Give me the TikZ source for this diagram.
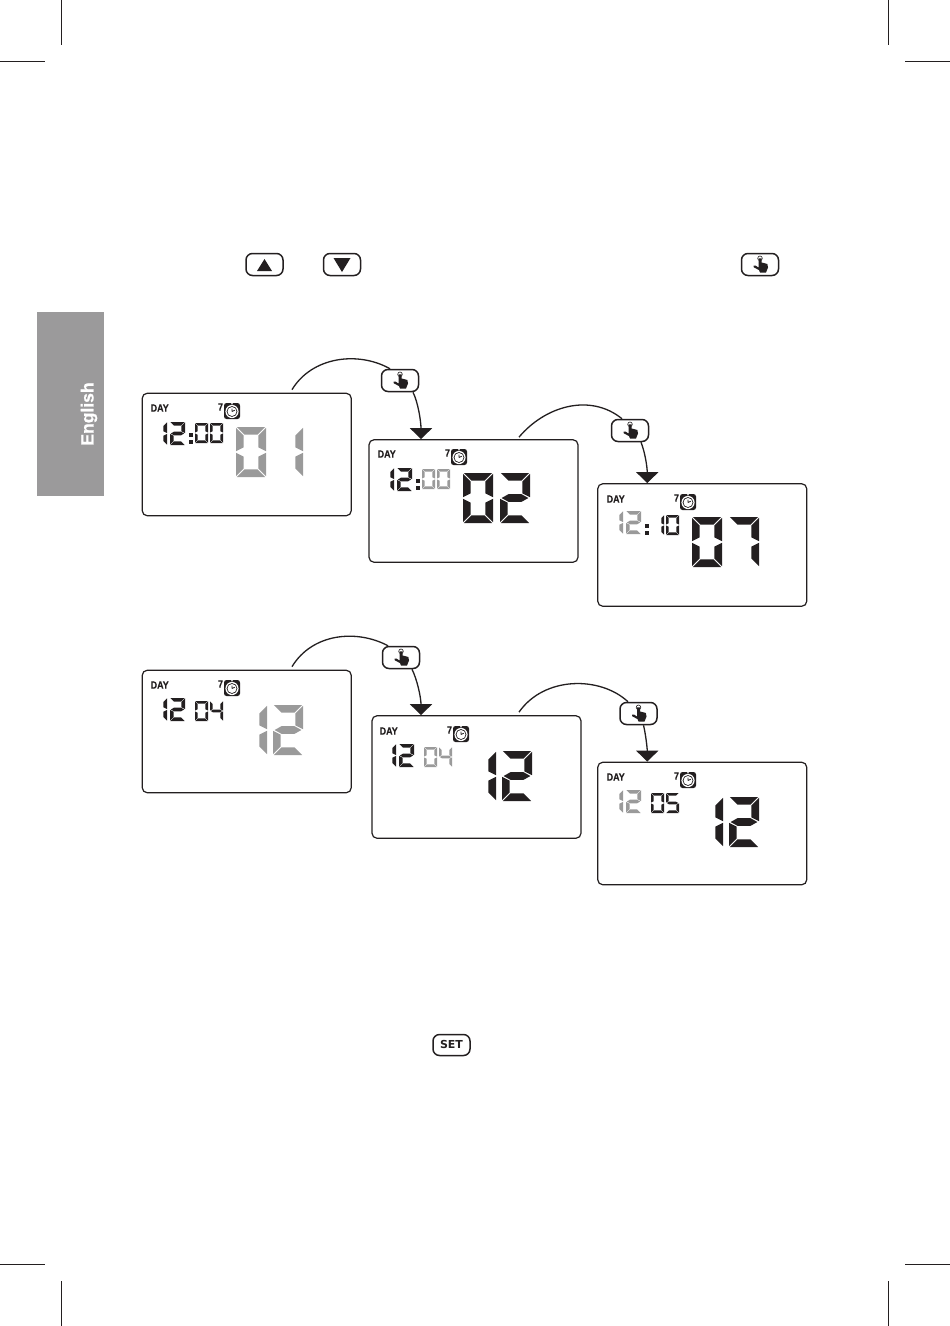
\documentclass[tikz,border=0pt]{standalone}
\usepackage{fontspec}
\setmainfont{Liberation Sans}
\newfontfamily\heavyfont{DejaVu Sans}
\newfontfamily\fatfont[BoldFeatures={FakeBold=1}]{Liberation Sans}
\newfontfamily\semifatfont[BoldFeatures={FakeBold=0.4}]{Liberation Sans}
\usetikzlibrary{arrows.meta}
\definecolor{lcdgrey}{HTML}{9A9A9A}
\definecolor{tabgrey}{HTML}{9B9A9B}
\definecolor{ink}{HTML}{231F20}
\tikzset{
  panel/.style={draw=ink,line width=1.2pt,rounded corners=5pt,minimum width=209pt,minimum height=122.5pt,inner sep=0pt,fill=white},
  keybox/.style={draw=ink,line width=1.5pt,rounded corners=6.5pt,minimum width=37pt,minimum height=22pt,inner sep=0pt,fill=white},
  link/.style={draw=ink,line width=1.3pt},
  linkhead/.style={draw=ink,line width=1.3pt,-{Triangle[width=22pt,length=11pt]}},
  crop/.style={draw=ink,line width=0.6pt},
  daytxt/.style={inner sep=0pt,text=ink,font=\fontsize{10.5}{12}\semifatfont\bfseries\selectfont},
  seg/.style={fill=\lcdc}
}
% segments
\def\segA{\fill[seg] (\lG,0)--(\lW-\lG,0)--(\lW-\lG-\lT,\lT)--(\lG+\lT,\lT)--cycle;}
\def\segB{\fill[seg] (\lW,\lG)--(\lW,\lH/2-\lG)--(\lW-\lT,\lH/2-\lT/2-\lG)--(\lW-\lT,\lG+\lT)--cycle;}
\def\segC{\fill[seg] (\lW,\lH-\lG)--(\lW,\lH/2+\lG)--(\lW-\lT,\lH/2+\lT/2+\lG)--(\lW-\lT,\lH-\lG-\lT)--cycle;}
\def\segD{\fill[seg] (\lG,\lH)--(\lW-\lG,\lH)--(\lW-\lG-\lT,\lH-\lT)--(\lG+\lT,\lH-\lT)--cycle;}
\def\segE{\fill[seg] (0,\lH-\lG)--(0,\lH/2+\lG)--(\lT,\lH/2+\lT/2+\lG)--(\lT,\lH-\lG-\lT)--cycle;}
\def\segF{\fill[seg] (0,\lG)--(0,\lH/2-\lG)--(\lT,\lH/2-\lT/2-\lG)--(\lT,\lG+\lT)--cycle;}
\def\segG{\fill[seg] (2*\lG,\lH/2)--(\lT+\lG,\lH/2-\lT/2)--(\lW-\lT-\lG,\lH/2-\lT/2)--(\lW-2*\lG,\lH/2)--(\lW-\lT-\lG,\lH/2+\lT/2)--(\lT+\lG,\lH/2+\lT/2)--cycle;}
\expandafter\def\csname dg0\endcsname{\segA\segB\segC\segD\segE\segF}
\expandafter\def\csname dg1\endcsname{\segB\segC}
\expandafter\def\csname dg2\endcsname{\segA\segB\segG\segE\segD}
\expandafter\def\csname dg4\endcsname{\segF\segG\segB\segC}
\expandafter\def\csname dg5\endcsname{\segA\segF\segG\segC\segD}
\expandafter\def\csname dg7\endcsname{\segA\segB\segC}
\def\szbig{\def\lW{30}\def\lH{50}\def\lT{7.6}\def\lG{0.8}}
\def\szhrs{\def\lW{15}\def\lH{23}\def\lT{3.6}\def\lG{0.4}}
\def\szmin{\def\lW{13}\def\lH{20}\def\lT{2.6}\def\lG{0.4}}
\newcommand\lcd[5]{\begin{scope}[shift={(#1,#2)}]\def\lcdc{#3}\csname sz#4\endcsname\csname dg#5\endcsname\end{scope}}
\newcommand\colondots[1]{\fill[#1] (47,40) rectangle (51,44); \fill[#1] (47,47) rectangle (51,51);}
% panel furniture: DAY, 7, clock
\newcommand\furn{%
  \node[daytxt] (dayt) at (17.7,15) {\scalebox{.85}[1]{DAY}};
  \node[daytxt] (sev) at (78.5,14) {\scalebox{.85}[1]{7}};
  \fill[ink,rounded corners=2.5pt] (82,10) rectangle (98,26);
  \fill[white] (90,18.5) circle (6.6);
  \fill[ink] (90,18.5) circle (5.4);
  \fill[white] (90,18.5) circle (4.5);
  \draw[ink,line width=.8pt] (90,18.5)--(90,15.5) (90,18.5)--(92.8,17.2);
  \fill[white] (90,10.8) circle (.9);
}
\newcommand\handicon[1]{\begin{scope}[shift={(#1)}]
  \draw[ink,line width=.6pt] (0,-6.2) circle (2.3);
  \fill[ink] (-1.5,-6.2) -- (1.5,-6.2) -- (1.5,-2) -- (3,-1.7) -- (7.4,-.5) -- (8,3) -- (6,8) -- (0,8) -- (-1,5.6) -- (-6.5,2.6) -- (-6.5,1) -- (-4.5,1) -- (-1.5,3) -- cycle;
\end{scope}}
\begin{document}
\begin{tikzpicture}[x=1pt,y=-1pt]
\useasboundingbox (0,0) rectangle (950,1326);
\fill[white] (0,0) rectangle (950,1326);
% crop marks
\draw[crop] (61,0)--(61,45) (888,0)--(888,45) (0,61)--(45,61) (905,61)--(950,61)
  (61,1281)--(61,1326) (888,1281)--(888,1326) (0,1264)--(45,1264) (905,1264)--(950,1264);
% tab
\node[fill=tabgrey,minimum width=67pt,minimum height=184pt,inner sep=0pt] (tab) at (70.5,404) {};
\node[rotate=90,inner sep=0pt,text=white,font=\fontsize{17.5}{20}\fatfont\bfseries\selectfont] (eng) at (89,414) {English};
% top keys
\node[keybox] (kup) at (264.5,264.5) {};
\node[keybox] (kdn) at (342,264.5) {};
\node[keybox] (kok) at (760,264.5) {};
\fill[ink] ([shift={(-7.5,6.5)}]kup.center)--([shift={(7.5,6.5)}]kup.center)--([shift={(0,-5.5)}]kup.center)--cycle;
\fill[ink] ([shift={(-8.5,-6.5)}]kdn.center)--([shift={(8.5,-6.5)}]kdn.center)--([shift={(0,7.5)}]kdn.center)--cycle;
\handicon{kok.center}
\node[keybox,minimum height=21pt] (kset) at (451.5,1045) {};
\node[inner sep=0pt,text=ink,font=\fontsize{11}{12}\heavyfont\bfseries\selectfont] (tset) at (451.5,1044.5) {SET};
% panels
\node[panel] (p1) at (246.75,454.5) {};
\node[panel] (p2) at (473.5,501) {};
\node[panel] (p3) at (702.25,545) {};
\node[panel] (p4) at (246.75,731.5) {};
\node[panel] (p5) at (476.5,777) {};
\node[panel] (p6) at (702.25,823.5) {};
% keys on connectors
\node[keybox] (b1) at (400,380.5) {};
\node[keybox] (b2) at (630,430.5) {};
\node[keybox] (b3) at (401,657.5) {};
\node[keybox] (b4) at (638.5,713.5) {};
\handicon{b1.center}
\handicon{b2.center}
\handicon{b3.center}
\handicon{b4.center}
% connectors
\draw[link] ([shift={(45.25,-3)}]p1.north) .. controls +(20,-33) and +(-32,-18) .. ([xshift=-10pt]b1.north);
\draw[link] ([shift={(45.5,-2)}]p2.north) .. controls +(26,-31) and +(-32,-26) .. ([xshift=-8pt]b2.north);
\draw[link] ([shift={(45.25,-3)}]p4.north) .. controls +(20,-33) and +(-32,-17) .. ([xshift=-13pt]b3.north);
\draw[link] ([shift={(42.5,-3)}]p5.north) .. controls +(25,-36) and +(-28,-26) .. ([xshift=-10.5pt]b4.north);
\draw[linkhead] ([xshift=13pt]b1.south) .. controls +(5,10) and +(0,-18) .. ([xshift=-52.5pt]p2.north);
\draw[linkhead] ([xshift=11pt]b2.south) .. controls +(4,10) and +(0,-16) .. ([xshift=-55pt]p3.north);
\draw[linkhead] ([xshift=11pt]b3.south) .. controls +(5,10) and +(0,-18) .. ([xshift=-55.5pt]p5.north);
\draw[linkhead] ([xshift=5pt]b4.south) .. controls +(2,8) and +(0,-14) .. ([xshift=-55pt]p6.north);
% screen 1
\begin{scope}[shift={(142,393)}]
 \furn \lcd{10}{29}{ink}{hrs}{1}\lcd{28}{29}{ink}{hrs}{2}\colondots{ink}
 \lcd{53}{30}{ink}{min}{0}\lcd{68}{30}{ink}{min}{0}
 \lcd{94}{34}{lcdgrey}{big}{0}\lcd{131}{34}{lcdgrey}{big}{1}
\end{scope}
% screen 2
\begin{scope}[shift={(369,439)}]
 \furn \lcd{10}{29}{ink}{hrs}{1}\lcd{28}{29}{ink}{hrs}{2}\colondots{ink}
 \lcd{53}{30}{lcdgrey}{min}{0}\lcd{68}{30}{lcdgrey}{min}{0}
 \lcd{94}{34}{ink}{big}{0}\lcd{131}{34}{ink}{big}{2}
\end{scope}
% screen 3
\begin{scope}[shift={(598,484)}]
 \furn \lcd{10}{27}{lcdgrey}{hrs}{1}\lcd{28}{27}{lcdgrey}{hrs}{2}\colondots{ink}
 \lcd{53}{31}{ink}{min}{1}\lcd{68}{31}{ink}{min}{0}
 \lcd{94}{33}{ink}{big}{0}\lcd{131}{33}{ink}{big}{7}
\end{scope}
% screen 4
\begin{scope}[shift={(142,670)}]
 \furn \lcd{10}{28}{ink}{hrs}{1}\lcd{28}{28}{ink}{hrs}{2}
 \lcd{53}{31}{ink}{min}{0}\lcd{68}{31}{ink}{min}{4}
 \lcd{95}{35}{lcdgrey}{big}{1}\lcd{131}{35}{lcdgrey}{big}{2}
\end{scope}
% screen 5
\begin{scope}[shift={(371,716)}]
 \furn \lcd{10}{28}{ink}{hrs}{1}\lcd{28}{28}{ink}{hrs}{2}
 \lcd{53}{31}{lcdgrey}{min}{0}\lcd{68}{31}{lcdgrey}{min}{4}
 \lcd{95}{35}{ink}{big}{1}\lcd{131}{35}{ink}{big}{2}
\end{scope}
% screen 6
\begin{scope}[shift={(598,762)}]
 \furn \lcd{10}{28}{lcdgrey}{hrs}{1}\lcd{28}{28}{lcdgrey}{hrs}{2}
 \lcd{53}{31}{ink}{min}{0}\lcd{68}{31}{ink}{min}{5}
 \lcd{95}{35}{ink}{big}{1}\lcd{131}{35}{ink}{big}{2}
\end{scope}
\end{tikzpicture}
\end{document}
